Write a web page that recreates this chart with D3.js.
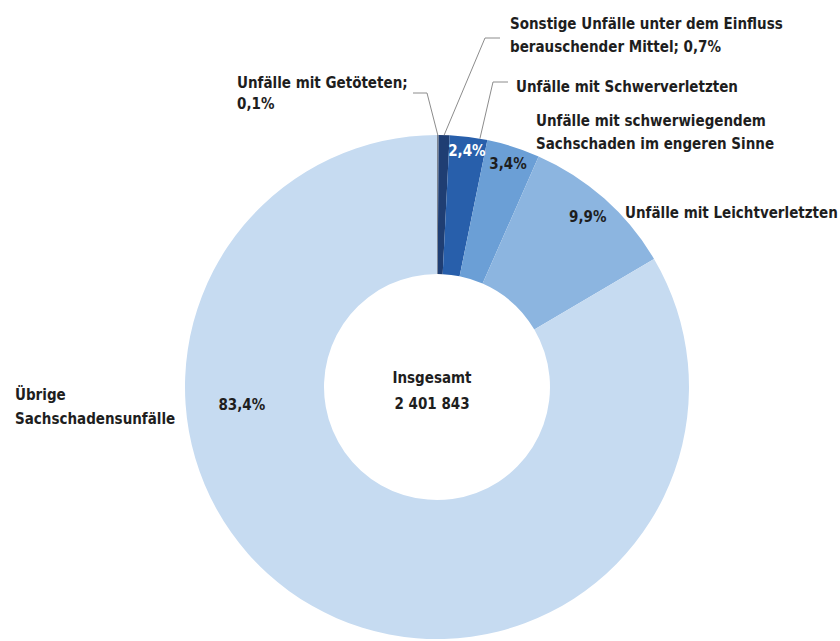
<!DOCTYPE html>
<html>
<head>
<meta charset="utf-8">
<script src="https://cdn.jsdelivr.net/npm/d3@7"></script>
<style>
  html, body { margin: 0; padding: 0; background: #fff; }
  svg { display: block; }
  text { font-family: "Liberation Sans Narrow", "DejaVu Sans Condensed", "Arial Narrow", sans-serif; font-weight: bold; fill: #1e1e1e; }
</style>
</head>
<body>
<svg id="chart" width="840" height="641"></svg>
<script>
// ---- data ----
const categories = [
  "Unfälle mit Getöteten",
  "Sonstige Unfälle unter dem Einfluss berauschender Mittel",
  "Unfälle mit Schwerverletzten",
  "Unfälle mit schwerwiegendem Sachschaden im engeren Sinne",
  "Unfälle mit Leichtverletzten",
  "Übrige Sachschadensunfälle"
];
const shares = [0.1, 0.7, 2.4, 3.4, 9.9, 83.4];
const shareLabels = ["0,1%", "0,7%", "2,4%", "3,4%", "9,9%", "83,4%"];
const totalLabel = ["Insgesamt", "2 401 843"];

// ---- styles / layout ----
const colors = ["#7d8490", "#1f3e73", "#285fab", "#6b9fd6", "#8cb5e0", "#c6dbf1"];
const cx = 437, cy = 387, rOuter = 252, rInner = 113;
const fontSize = 15;

const svg = d3.select("#chart");
const g = svg.append("g").attr("transform", `translate(${cx},${cy})`);

const pie = d3.pie().sort(null).value(d => d);
const arcs = pie(shares);
const arc = d3.arc().innerRadius(rInner).outerRadius(rOuter);

g.selectAll("path.slice")
  .data(arcs)
  .join("path")
  .attr("class", "slice")
  .attr("d", arc)
  .attr("fill", (d, i) => colors[i]);

function polar(angle, r) { return [r * Math.sin(angle), -r * Math.cos(angle)]; }
const mid = d => (d.startAngle + d.endAngle) / 2;

// in-slice percentage labels (indices 2..5)
const inside = [
  { i: 2, r: 238, color: "#ffffff" },
  { i: 3, r: 234, color: "#1e1e1e" },
  { i: 4, r: 227, color: "#1e1e1e" },
  { i: 5, r: 196, color: "#1e1e1e", angle: -Math.PI / 2 - 0.09 }
];
inside.forEach(o => {
  const a = o.angle !== undefined ? o.angle : mid(arcs[o.i]);
  const [x, y] = polar(a, o.r);
  g.append("text")
    .attr("x", x).attr("y", y)
    .attr("text-anchor", "middle")
    .attr("dominant-baseline", "central")
    .style("font-size", fontSize + "px")
    .style("fill", o.color)
    .text(shareLabels[o.i]);
});

// leader lines for the three thin slices (absolute svg coords for elbows)
const leaders = [
  { i: 0, elbow: [[427, 93], [413, 93]] },
  { i: 1, elbow: [[485, 38], [500, 38]] },
  { i: 2, elbow: [[493, 82], [508, 82]], frac: 0.8 }
];
leaders.forEach(o => {
  const d = arcs[o.i];
  const a = o.frac ? d.startAngle + (d.endAngle - d.startAngle) * o.frac : mid(d);
  const [x, y] = polar(a, rOuter);
  const pts = [[cx + x, cy + y]].concat(o.elbow);
  svg.append("path")
    .attr("d", d3.line()(pts))
    .attr("fill", "none")
    .attr("stroke", "#8c8c8c")
    .attr("stroke-width", 1);
});

// category annotations
function addText(lines, x, y, anchor, lh) {
  const t = svg.append("text")
    .attr("x", x).attr("y", y)
    .attr("text-anchor", anchor || "start")
    .style("font-size", fontSize + "px");
  lines.forEach((l, k) => {
    t.append("tspan").attr("x", x).attr("dy", k === 0 ? 0 : (lh || 23)).text(l);
  });
}
addText(["Unfälle mit Getöteten;", shareLabels[0]], 237, 88, "start", 21);
addText(["Sonstige Unfälle unter dem Einfluss", "berauschender Mittel; " + shareLabels[1]], 510, 29, "start", 23);
addText(["Unfälle mit Schwerverletzten"], 516, 92);
addText(["Unfälle mit schwerwiegendem", "Sachschaden im engeren Sinne"], 536, 126, "start", 23);
addText(["Unfälle mit Leichtverletzten"], 625, 218);
addText(["Übrige", "Sachschadensunfälle"], 15, 400, "start", 24);

// centre total
addText(totalLabel, 432, 383, "middle", 26);
</script>
</body>
</html>
